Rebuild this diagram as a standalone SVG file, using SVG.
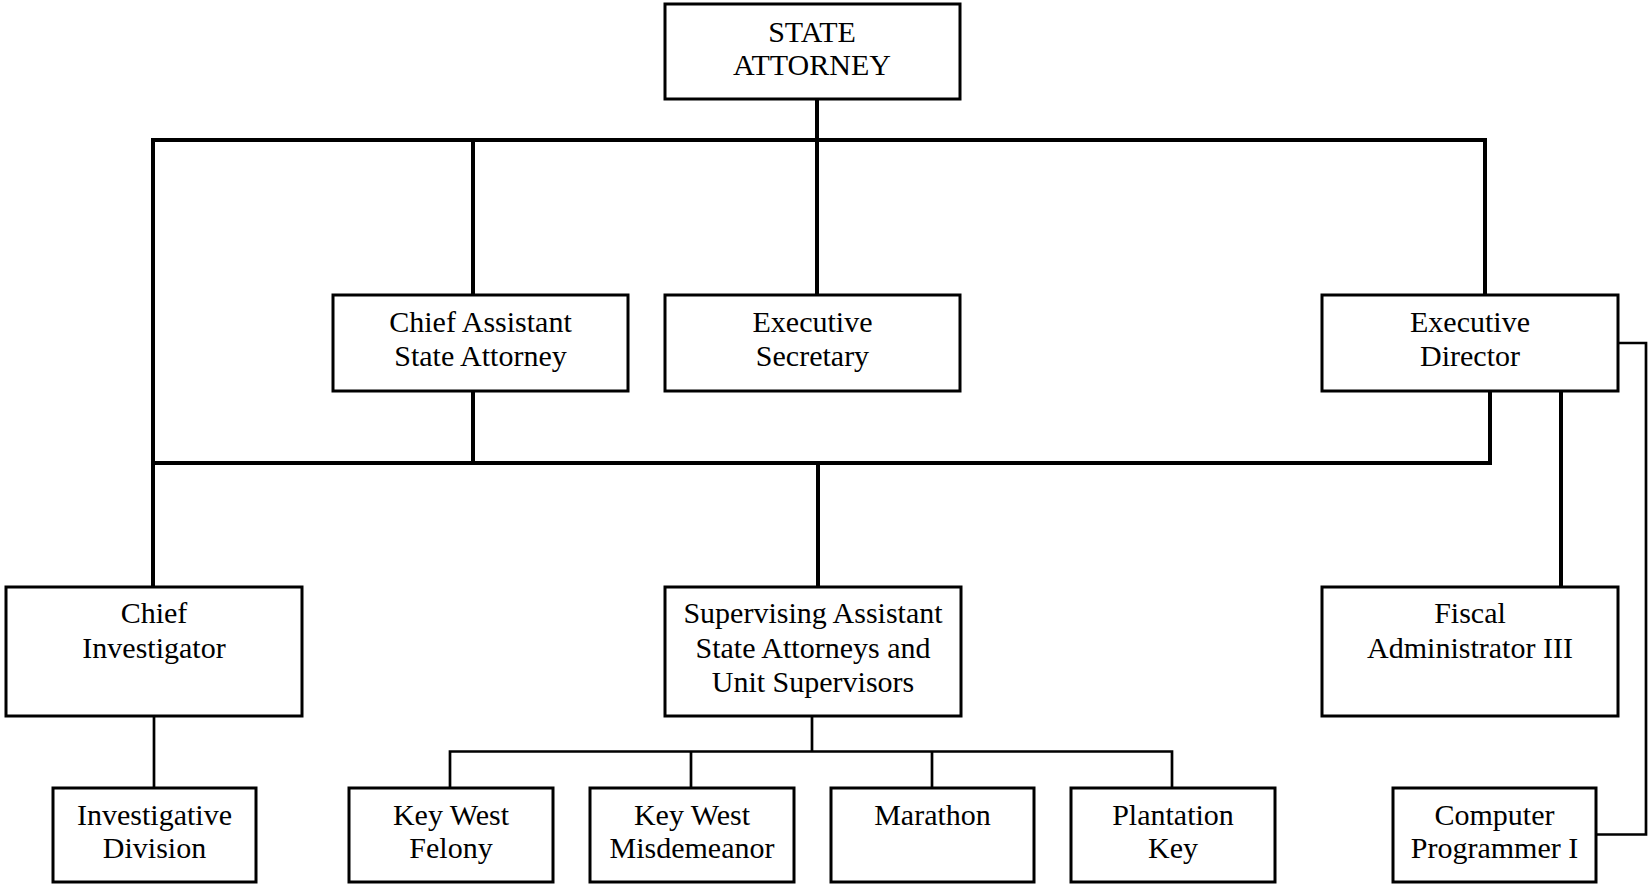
<svg xmlns="http://www.w3.org/2000/svg" width="1648" height="885" viewBox="0 0 1648 885">
<style>
.box{fill:#fff;stroke:#000;stroke-width:3}
.t{font-family:"Liberation Serif","Times New Roman",serif;font-size:30px;fill:#000;text-anchor:middle}
.c{fill:none;stroke:#000;stroke-width:4;stroke-linecap:square}
.c2{fill:none;stroke:#000;stroke-width:2.7;stroke-linecap:square}
</style>
<rect width="1648" height="885" fill="#fff"/>
<g id="connectors">
<path class="c" d="M817 99V140M153 140H1485V295M153 140V587M473 140V295M817 140V295"/>
<path class="c" d="M473 391V463M153 463H1490V391M818 463V587M1561 391V587"/>
<path class="c2" d="M1618 343H1646V834.5H1596"/>
<path class="c2" d="M154 716V788M812 716V751.5M450 788V751.5H1172V788M691 751.5V788M932 751.5V788"/>
</g>
<g id="state-attorney"><rect class="box" x="665" y="4" width="295" height="95"/><text class="t" x="812" y="42">STATE</text><text class="t" x="812" y="75">ATTORNEY</text></g>
<g id="chief-assistant"><rect class="box" x="333" y="295" width="295" height="96"/><text class="t" x="480.5" y="332">Chief Assistant</text><text class="t" x="480.5" y="366">State Attorney</text></g>
<g id="executive-secretary"><rect class="box" x="665" y="295" width="295" height="96"/><text class="t" x="812.5" y="332">Executive</text><text class="t" x="812.5" y="366">Secretary</text></g>
<g id="executive-director"><rect class="box" x="1322" y="295" width="296" height="96"/><text class="t" x="1470" y="332">Executive</text><text class="t" x="1470" y="366">Director</text></g>
<g id="chief-investigator"><rect class="box" x="6" y="587" width="296" height="129"/><text class="t" x="154" y="623">Chief</text><text class="t" x="154" y="658">Investigator</text></g>
<g id="supervising"><rect class="box" x="665" y="587" width="296" height="129"/><text class="t" x="813" y="623">Supervising Assistant</text><text class="t" x="813" y="658">State Attorneys and</text><text class="t" x="813" y="692">Unit Supervisors</text></g>
<g id="fiscal-administrator"><rect class="box" x="1322" y="587" width="296" height="129"/><text class="t" x="1470" y="623">Fiscal</text><text class="t" x="1470" y="658">Administrator III</text></g>
<g id="investigative-division"><rect class="box" x="53" y="788" width="203" height="94"/><text class="t" x="154.5" y="825">Investigative</text><text class="t" x="154.5" y="858">Division</text></g>
<g id="key-west-felony"><rect class="box" x="349" y="788" width="204" height="94"/><text class="t" x="451" y="825">Key West</text><text class="t" x="451" y="858">Felony</text></g>
<g id="key-west-misdemeanor"><rect class="box" x="590" y="788" width="204" height="94"/><text class="t" x="692" y="825">Key West</text><text class="t" x="692" y="858">Misdemeanor</text></g>
<g id="marathon"><rect class="box" x="831" y="788" width="203" height="94"/><text class="t" x="932.5" y="825">Marathon</text></g>
<g id="plantation-key"><rect class="box" x="1071" y="788" width="204" height="94"/><text class="t" x="1173" y="825">Plantation</text><text class="t" x="1173" y="858">Key</text></g>
<g id="computer-programmer"><rect class="box" x="1393" y="788" width="203" height="94"/><text class="t" x="1494.5" y="825">Computer</text><text class="t" x="1494.5" y="858">Programmer I</text></g>
</svg>
